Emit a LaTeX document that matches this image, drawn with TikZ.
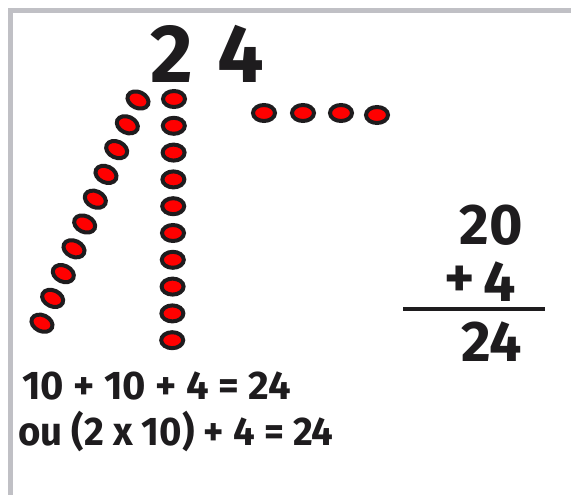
\documentclass[tikz,border=0pt]{standalone}
\usepackage{fontspec}
\setmainfont{Fira Sans}
\usepackage{tikz}
\usetikzlibrary{shapes.geometric,positioning}
\definecolor{framegray}{RGB}{192,192,197}
\definecolor{dotred}{RGB}{255,0,0}
\definecolor{ink}{RGB}{30,28,30}

\begin{document}
\begin{tikzpicture}[
  x=0.75pt, y=-0.75pt,
  dot/.style={ellipse,draw=ink,line width=3pt,fill=dotred,minimum width=16.5pt,minimum height=12pt,inner sep=0pt},
  big/.style={text=ink,font=\fontsize{62}{62}\selectfont\bfseries,inner sep=0pt},
  mid/.style={text=ink,font=\fontsize{43}{43}\selectfont\bfseries,inner sep=0pt},
  eqn/.style={text=ink,font=\fontsize{30}{30}\selectfont\bfseries,inner sep=0pt,anchor=west}
]
\useasboundingbox (0,0) rectangle (571,495);
% frame
\draw[framegray,line width=3.75pt] (571,10.5) -- (10.5,10.5) -- (10.5,495);
% the number
\node[big] (tens) at (172,54) {2};
\node[big] (units) at (241,54) {4};
% dots
\foreach \i in {0,...,9}
  \node[dot] (v\i) at ({174-0.2*\i},{99+26.8*\i}) {};
\foreach \i in {0,...,9}
  \node[dot,rotate=-25] (d\i) at ({138-10.67*\i},{100+24.8*\i}) {};
\node[dot] (h0) at (264,113) {};
\node[dot] (h1) at (303,113) {};
\node[dot] (h2) at (341,113) {};
\node[dot] (h3) at (377,115) {};
% column sum
\node[mid] (s20) at (491,225) {20};
\node[mid] (s4) at (500,282) {4};
\node[mid,left=6pt of s4] (plus) {+};
\coordinate (barl) at (403,309);
\coordinate (barr) at (545,309);
\draw[ink,line width=2.4pt] (barl) -- (barr);
\node[mid] (s24) at (492,342) {24};
% equations
\node[eqn] (eq1) at (22,386) {10 + 10 + 4 = 24};
\node[eqn,xscale=0.96] (eq2) at (18,431) {ou (2 x 10) + 4 = 24};
\end{tikzpicture}
\end{document}
